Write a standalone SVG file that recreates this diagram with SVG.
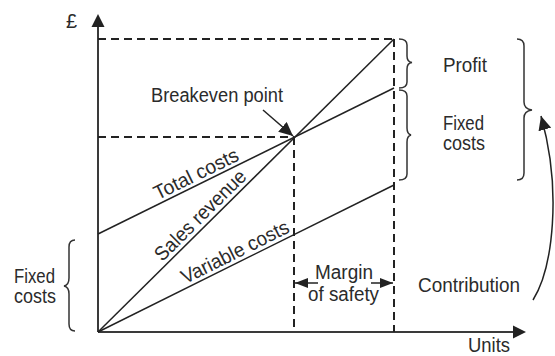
<svg xmlns="http://www.w3.org/2000/svg" width="555" height="356" viewBox="0 0 555 356">
<style>
  text { font-family: "Liberation Sans", Arial, sans-serif; font-size: 20px; fill: #2b2b2b; }
  .axis { stroke: #3a3a3a; stroke-width: 2; fill: none; }
  .line { stroke: #222; stroke-width: 1.5; fill: none; }
  .dash { stroke: #222; stroke-width: 2; stroke-dasharray: 8 5; fill: none; }
  .brace { stroke: #333; stroke-width: 1.5; fill: none; }
  .head { fill: #222; }
</style>
<defs>
  <marker id="ah" markerUnits="userSpaceOnUse" markerWidth="15" markerHeight="13" refX="14" refY="6.5" orient="auto">
    <path class="head" d="M0,0 L14,6.5 L0,13 Z"/>
  </marker>
  <marker id="ahs" markerUnits="userSpaceOnUse" markerWidth="14" markerHeight="12" refX="13" refY="5" orient="auto">
    <path class="head" d="M0,0 L13,5 L0,10 Z"/>
  </marker>
</defs>
<rect width="555" height="356" fill="#fff"/>

<g id="connectors">
  <line class="axis" x1="98" y1="332" x2="98" y2="26"/>
  <path class="head" d="M98,14 L91.5,27 L104.5,27 Z"/>
  <line class="axis" x1="98" y1="332" x2="514" y2="332"/>
  <path class="head" d="M526,332 L513,325.5 L513,338.5 Z"/>
  <line class="dash" x1="98" y1="39" x2="394" y2="39"/>
  <line class="dash" x1="98" y1="137" x2="294" y2="137"/>
  <line class="dash" x1="294" y1="137" x2="294" y2="332"/>
  <line class="dash" x1="394" y1="39" x2="394" y2="332"/>
  <line id="sales-revenue" class="line" x1="98" y1="332" x2="394" y2="39"/>
  <line id="total-costs" class="line" x1="98" y1="234" x2="394" y2="88"/>
  <line id="variable-costs" class="line" x1="98" y1="332" x2="394" y2="185"/>
  <line class="line" x1="263" y1="110" x2="293" y2="136" marker-end="url(#ah)"/>
  <line class="line" x1="318" y1="283" x2="295" y2="283" stroke-width="2" marker-end="url(#ahs)"/>
  <line class="line" x1="371" y1="283" x2="393" y2="283" stroke-width="2" marker-end="url(#ahs)"/>
  <path class="line" d="M533,300 C553,268 562,190 541,116" marker-end="url(#ah)"/>
</g>

<g id="braces">
  <path class="brace" d="M399,39 q8,0 8,6 L407,56 q0,6 5,6.5 q-5,0.5 -5,6.5 L407,82 q0,6 -8,6"/>
  <path class="brace" d="M399,90 q8,0 8,6 L407,128 q0,6 4,7 q-4,1 -4,7 L407,174 q0,6 -8,6"/>
  <path class="brace" d="M517,39 q7,0 7,7 L524,102 q0,7 8,8 q-8,1 -8,8 L524,173 q0,7 -7,7"/>
  <path class="brace" d="M75,240 q-6,0 -6,7 L69,278 q0,7 -5,8 q5,1 5,8 L69,324 q0,7 6,7"/>
</g>

<g id="label-pound"><text x="66" y="28">£</text></g>
<g id="label-units"><text x="468" y="352" textLength="42" lengthAdjust="spacingAndGlyphs">Units</text></g>
<g id="label-breakeven"><text x="151" y="102" textLength="132" lengthAdjust="spacingAndGlyphs">Breakeven point</text></g>
<g id="label-profit"><text x="443" y="72" textLength="44" lengthAdjust="spacingAndGlyphs">Profit</text></g>
<g id="label-fixed-right"><text x="443" y="130" textLength="41" lengthAdjust="spacingAndGlyphs">Fixed</text><text x="443" y="150" textLength="42" lengthAdjust="spacingAndGlyphs">costs</text></g>
<g id="label-fixed-left"><text x="14" y="283" textLength="41" lengthAdjust="spacingAndGlyphs">Fixed</text><text x="14" y="303" textLength="42" lengthAdjust="spacingAndGlyphs">costs</text></g>
<g id="label-contribution"><text x="418" y="292" textLength="102" lengthAdjust="spacingAndGlyphs">Contribution</text></g>
<g id="label-margin"><text x="315" y="279" textLength="58" lengthAdjust="spacingAndGlyphs">Margin</text><text x="308" y="301" textLength="71" lengthAdjust="spacingAndGlyphs">of safety</text></g>
<g id="label-total-costs"><text transform="translate(199,180) rotate(-26.1)" text-anchor="middle" textLength="92" lengthAdjust="spacingAndGlyphs">Total costs</text></g>
<g id="label-sales-revenue"><text transform="translate(205,220) rotate(-44.7)" text-anchor="middle" textLength="120" lengthAdjust="spacingAndGlyphs">Sales revenue</text></g>
<g id="label-variable-costs"><text transform="translate(238,258) rotate(-26.4)" text-anchor="middle" textLength="118" lengthAdjust="spacingAndGlyphs">Variable costs</text></g>
</svg>
